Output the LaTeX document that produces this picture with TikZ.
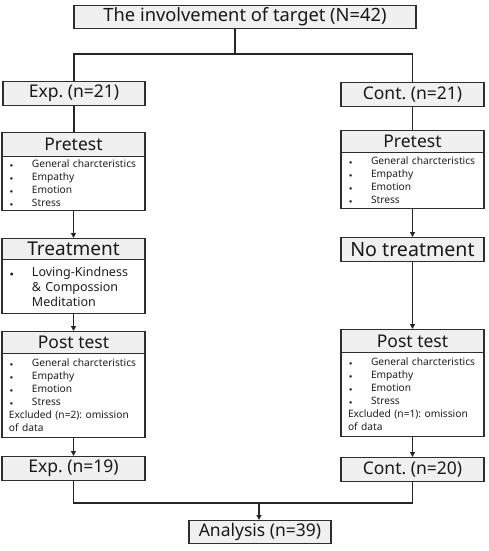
\documentclass[tikz,border=0pt]{standalone}
\usepackage{fontspec}
\usepackage{graphicx}
\setmainfont{Noto Sans}
\usetikzlibrary{arrows.meta}
\newcommand{\bitem}[1]{\makebox[23pt][l]{\hspace*{1pt}\scalebox{.65}{$\bullet$}}#1}
\begin{document}
\frenchspacing
\begin{tikzpicture}[x=1pt,y=1pt,
  hdr/.style={draw=black!82, line width=1.3pt, fill=black!6, inner sep=0pt, minimum width=143pt, anchor=north, text=black!90, font=\fontsize{17.5}{20}\selectfont},
  bodybox/.style={draw=black!82, line width=1.3pt, fill=white, inner xsep=7pt, inner ysep=0pt, text width=129pt, minimum width=143pt, anchor=north, align=left, text=black!88, font=\fontsize{10.2}{13}\selectfont},
  conn/.style={line width=1.2pt, draw=black!85},
  arr/.style={conn, -{Triangle[length=5pt,width=5pt]}},
]
\useasboundingbox (0,0) rectangle (488,-551);
% nodes
\node[hdr, minimum width=342pt, minimum height=23pt, font=\fontsize{18.3}{21}\selectfont] (top) at (245,-5) {The involvement of target (N=42)};
\node[hdr, minimum width=142pt, minimum height=24pt] (exp21) at (74,-81) {Exp. (n=21)};
\node[hdr, minimum height=24pt] (cont21) at (412.5,-82) {Cont. (n=21)};
% left column
\node[hdr, minimum height=24pt] (preLh) at (73.5,-132) {Pretest};
\node[bodybox, minimum height=54pt] (preLb) at (73.5,-156) {\bitem{General charcteristics}\\\bitem{Empathy}\\\bitem{Emotion}\\\bitem{Stress}};
\node[hdr, minimum height=21pt, font=\fontsize{19}{22}\selectfont] (trLh) at (73.5,-238) {Treatment};
\node[bodybox, minimum height=54pt, font=\fontsize{12.5}{14.7}\selectfont] (trLb) at (73.5,-259) {\bitem{Loving-Kindness}\\\hspace*{23pt}\& Compossion\\\hspace*{23pt}Meditation};
\node[hdr, minimum height=22pt] (postLh) at (73.5,-331) {Post test};
\node[bodybox, minimum height=84pt] (postLb) at (73.5,-353) {\bitem{General charcteristics}\\\bitem{Empathy}\\\bitem{Emotion}\\\bitem{Stress}\\Excluded (n=2): omission\\of data};
\node[hdr, minimum height=24pt] (exp19) at (73.5,-456) {Exp. (n=19)};
% right column
\node[hdr, minimum height=22pt] (preRh) at (412.5,-130) {Pretest};
\node[bodybox, minimum height=56pt] (preRb) at (412.5,-152) {\bitem{General charcteristics}\\\bitem{Empathy}\\\bitem{Emotion}\\\bitem{Stress}};
\node[hdr, minimum height=24pt, font=\fontsize{19.6}{23}\selectfont] (notr) at (412.5,-237) {No treatment};
\node[hdr, minimum height=23pt] (postRh) at (412.5,-329) {Post test};
\node[bodybox, minimum height=84pt] (postRb) at (412.5,-352) {\bitem{General charcteristics}\\\bitem{Empathy}\\\bitem{Emotion}\\\bitem{Stress}\\Excluded (n=1): omission\\of data};
\node[hdr, minimum height=24pt] (cont20) at (412.5,-457) {Cont. (n=20)};
% analysis
\node[hdr, minimum width=142pt, minimum height=23pt] (ana) at (260,-520) {Analysis (n=39)};
% connectors
\coordinate (j1) at (235,-54);
\coordinate (j2) at (259,-503);
\draw[conn] (j1 |- top.south) -- (j1);
\draw[conn] (exp21.north) |- (j1) -| (cont21.north);
\draw[conn] (exp21.south) -- (exp21.south |- preLh.north);
\draw[conn] (cont21.south) -- (cont21.south |- preRh.north);
\draw[arr] (preLb.south) -- (trLh.north);
\draw[arr] (trLb.south) -- (postLh.north);
\draw[arr] (postLb.south) -- (exp19.north);
\draw[arr] (preRb.south) -- (notr.north);
\draw[arr] (notr.south) -- (postRh.north);
\draw[arr] (postRb.south) -- (cont20.north);
\draw[conn] (exp19.south) |- (j2);
\draw[conn] (cont20.south) |- (j2);
\draw[arr] (j2) -- (j2 |- ana.north);
\end{tikzpicture}
\end{document}
